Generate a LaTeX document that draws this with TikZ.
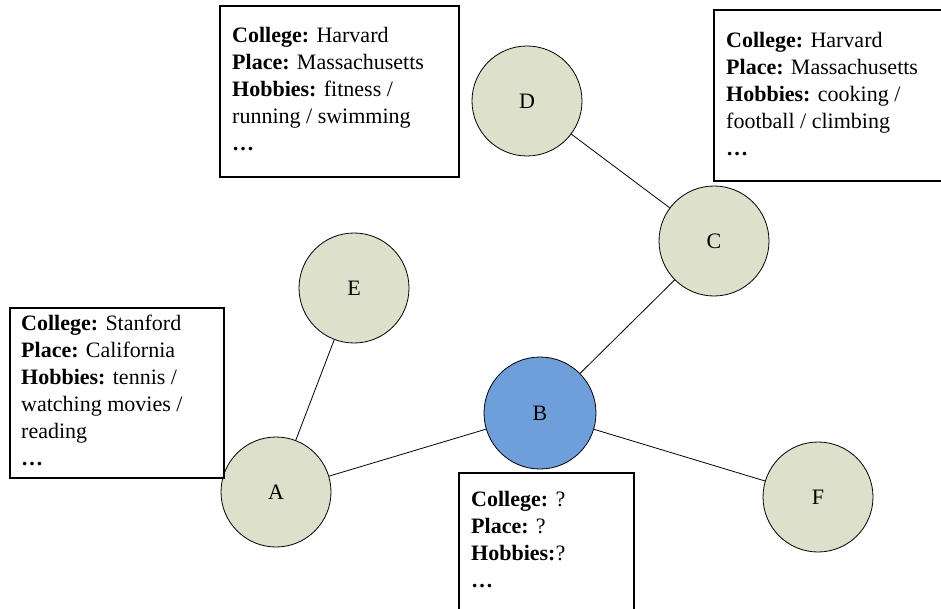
\documentclass[tikz,border=0pt]{standalone}
\usepackage{fontspec}
\setmainfont{Liberation Serif}
\definecolor{nodegreen}{HTML}{DDE0CB}
\definecolor{nodeblue}{HTML}{6E9FDA}
\tikzset{
	person/.style={circle,draw,line width=0.8pt,fill=nodegreen,minimum size=110pt,inner sep=0pt,font=\fontsize{22}{27}\selectfont},
	infobox/.style={draw,line width=1.5pt},
	infotext/.style={anchor=north west,inner sep=0pt,align=left,font=\fontsize{22}{27}\selectfont}
}
\begin{document}
\begin{tikzpicture}[x=1pt,y=-1pt]
		\useasboundingbox (0,0) rectangle (941,609);
		% people
		\node[person] (D) at (527,101) {D};
		\node[person] (C) at (714,241) {C};
		\node[person] (E) at (354,288) {E};
		\node[person] (A) at (276,492) {A};
		\node[person,fill=nodeblue,minimum size=112pt] (B) at (540,413) {B};
		\node[person] (F) at (818,497) {F};
		\draw[line width=0.8pt] (D) -- (C);
		\draw[line width=0.8pt] (C) -- (B);
		\draw[line width=0.8pt] (B) -- (A);
		\draw[line width=0.8pt] (A) -- (E);
		\draw[line width=0.8pt] (B) -- (F);
		% profiles
		\draw[infobox] (220,6) rectangle (459,177);
		\node[infotext] (infoD) at (232,27) {\textbf{College:} Harvard\\ \textbf{Place:} Massachusetts\\ \textbf{Hobbies:} fitness /\\ running / swimming\\ \textbf{…}};
		\draw[infobox] (714,10) rectangle (946,181);
		\node[infotext] (infoC) at (726,32) {\textbf{College:} Harvard\\ \textbf{Place:} Massachusetts\\ \textbf{Hobbies:} cooking /\\ football / climbing\\ \textbf{…}};
		\draw[infobox] (10,308) rectangle (224,478);
		\node[infotext] (infoA) at (21,315) {\textbf{College:} Stanford\\ \textbf{Place:} California\\ \textbf{Hobbies:} tennis /\\ watching movies /\\ reading\\ \textbf{…}};
		\draw[infobox] (459,473) rectangle (634,620);
		\node[infotext] (infoB) at (471,491) {\textbf{College:} ?\\ \textbf{Place:} ?\\ \textbf{Hobbies:}?\\ \textbf{…}};
		\end{tikzpicture}
\end{document}
